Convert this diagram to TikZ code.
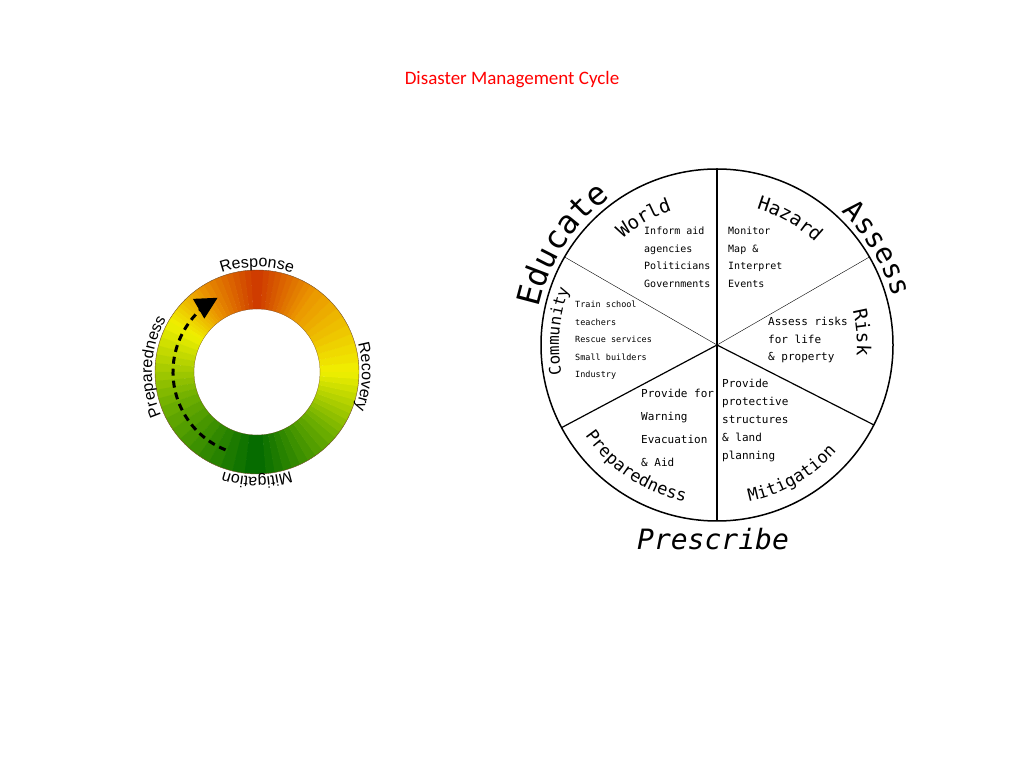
\documentclass[tikz,border=0pt]{standalone}
\usepackage{fontspec}
\setmainfont{Carlito}
\setsansfont{Liberation Sans}
\newfontfamily\monofont{DejaVu Sans Mono}
\usetikzlibrary{decorations.text,arrows.meta}
\definecolor{ringred}{RGB}{205,55,0}
\definecolor{ringorange}{RGB}{235,150,0}
\definecolor{ringyellow}{RGB}{240,240,0}
\definecolor{ringgreen}{RGB}{0,105,0}
\definecolor{ringlime}{RGB}{110,175,0}
\tikzset{
  wheeltext/.style={font=\monofont\fontsize{#1}{1.75em}\selectfont, align=left, anchor=north west, inner sep=0pt},
  arctext/.style 2 args={decorate, decoration={text along path, text align=center, text={|#1|#2}}}
}
\begin{document}
\begin{tikzpicture}[x=1pt,y=1pt]
  \useasboundingbox (0,0) rectangle (1024,768);
  % Title
  \node (title) [text=red, font=\fontsize{19}{22}\selectfont] at (512,688) {Disaster Management Cycle};

  % Colour ring
  \coordinate (R) at (257,396);
  \foreach \a/\b/\ca/\cb in {-90/-40/ringgreen/ringlime, -40/0/ringlime/ringyellow, 0/55/ringyellow/ringorange,
      55/90/ringorange/ringred, 90/125/ringred/ringorange, 125/150/ringorange/ringyellow,
      150/200/ringyellow/ringlime, 200/270/ringlime/ringgreen}{
    \foreach \i in {0,...,9}{
      \pgfmathsetmacro\s{\a+(\b-\a)*\i/10}
      \pgfmathsetmacro\e{\a+(\b-\a)*(\i+1)/10+0.3}
      \pgfmathsetmacro\p{100-\i*10-5}
      \fill[\ca!\p!\cb] (R) ++(\s:102) arc (\s:\e:102) -- ++(\e+180:39) arc (\e:\s:63) -- cycle;
    }
  }
  \draw[brown!60!black, thin] (R) circle (102);
  \draw[brown!60!black, very thin] (R) circle (63);
  \draw[line width=3pt, dash pattern=on 7pt off 5pt, -{Triangle[length=22pt,width=22pt]}]
    (R) ++(248:84) arc (248:122:84) -- ++(30:6);
  \path[arctext={\sffamily\fontsize{16}{16}\selectfont}{Response}] (R) ++(112:105) arc (112:68:105);
  \path[arctext={\sffamily\fontsize{16}{16}\selectfont}{Recovery}] (R) ++(22:105) arc (22:-27:105);
  \path[arctext={\sffamily\fontsize{16}{16}\selectfont}{Mitigation}] (R) ++(-63:105) arc (-63:-117:105);
  \path[arctext={\sffamily\fontsize{16}{16}\selectfont}{Preparedness}] (R) ++(-148:105) arc (-148:-218:105);

  % Wheel
  \coordinate (C) at (717,423);
  \draw[line width=1.5pt] (C) circle (176);
  \draw[line width=1.2pt] (C) ++(90:176) -- ++(0,-352);
  \draw[thin] (C) -- ++(150:176);
  \draw[thin] (C) -- ++(30:176);
  \draw[line width=1.2pt] (C) -- ++(208:176);
  \draw[line width=1.2pt] (C) -- ++(-27:176);

  % Outer labels
  \path[arctext={\monofont\fontsize{32}{32}\selectfont}{Educate}] (C) ++(172:182) arc (172:122:182);
  \path[arctext={\monofont\fontsize{28}{28}\selectfont}{Assess}] (C) ++(52:182) arc (52:10:182);
  \node (prescribe) [font=\monofont\itshape\fontsize{28}{28}\selectfont] at (713,229) {Prescribe};

  % Inner labels
  \path[arctext={\monofont\fontsize{19}{19}\selectfont}{World}] (C) ++(140:142) arc (140:100:142);
  \path[arctext={\monofont\fontsize{19}{19}\selectfont}{Hazard}] (C) ++(82:142) arc (82:38:142);
  \path[arctext={\monofont\fontsize{19}{19}\selectfont}{Risk}] (C) ++(25:140) arc (25:-15:140);
  \path[arctext={\monofont\fontsize{16}{16}\selectfont}{Community}] (C) ++(205:158) arc (205:145:158);
  \path[arctext={\monofont\fontsize{17}{17}\selectfont}{Preparedness}] (C) ++(205:160) arc (205:268:160);
  \path[arctext={\monofont\fontsize{17}{17}\selectfont}{Mitigation}] (C) ++(-88:160) arc (-88:-32:160);

  % Sector texts
  \node (world) [wheeltext=10] at (644,541) {Inform aid\\agencies\\Politicians\\Governments};
  \node (hazard) [wheeltext=10] at (728,541) {Monitor\\Map \&\\Interpret\\Events};
  \node (community) [wheeltext=8.5] at (575,467) {Train school\\teachers\\Rescue services\\Small builders\\Industry};
  \node (risk) [wheeltext=11] at (768,451) {Assess risks\\for life\\\& property};
  \node (preparedness) [wheeltext=11, font=\monofont\fontsize{11}{23}\selectfont] at (641,379) {Provide for\\Warning\\Evacuation\\\& Aid};
  \node (mitigation) [wheeltext=11, font=\monofont\fontsize{11}{18}\selectfont] at (722,389) {Provide\\protective\\structures\\\& land\\planning};
\end{tikzpicture}
\end{document}
